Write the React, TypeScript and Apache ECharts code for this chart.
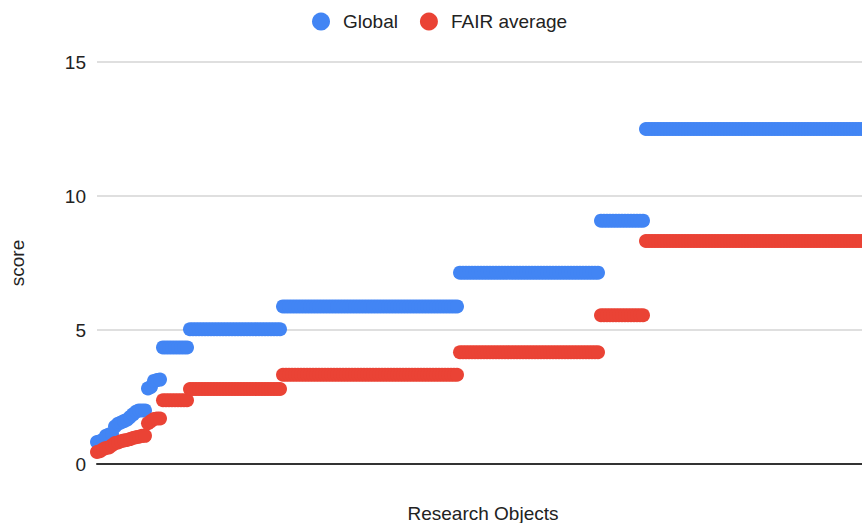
import React, { useEffect, useRef } from "react";
import * as echarts from "echarts";

// Scores, as [score, number of consecutive research objects]
const globalRuns: [number, number][] = [
  [0.82, 1], [0.85, 1], [0.9, 1], [1.05, 1], [1.1, 1], [1.12, 1],
  [1.4, 1], [1.5, 1], [1.55, 1], [1.6, 1], [1.65, 1], [1.75, 1],
  [1.85, 1], [1.95, 1], [2.0, 3], [2.82, 1], [2.88, 1], [3.1, 1],
  [3.13, 1], [3.15, 1], [4.35, 9], [5.03, 31], [5.88, 59], [7.14, 47],
  [9.08, 15], [12.5, 73],
];
const fairRuns: [number, number][] = [
  [0.45, 1], [0.48, 1], [0.55, 1], [0.6, 1], [0.62, 1], [0.7, 1],
  [0.78, 1], [0.8, 1], [0.85, 1], [0.88, 1], [0.9, 1], [0.93, 1],
  [0.97, 1], [1.0, 1], [1.02, 1], [1.05, 2], [1.52, 1], [1.6, 1],
  [1.68, 1], [1.7, 2], [2.38, 9], [2.8, 31], [3.33, 59], [4.17, 47],
  [5.55, 15], [8.32, 73],
];
const seriesNames = ["Global", "FAIR average"];
const yTicks = [0, 5, 10, 15];

const expand = (runs: [number, number][]) => {
  const out: number[] = [];
  runs.forEach(([v, n]) => {
    for (let k = 0; k < n; k++) out.push(v);
  });
  return out;
};

export default function App() {
  const ref = useRef<HTMLDivElement>(null);
  useEffect(() => {
    if (!ref.current) return;
    const chart = echarts.init(ref.current, undefined, { renderer: "svg" });
    const globalData = expand(globalRuns);
    const fairData = expand(fairRuns);
    const categories = globalData.map((_, i) => String(i + 1));
    const font = "Arial, 'Liberation Sans', sans-serif";
    chart.setOption({
      animation: false,
      backgroundColor: "#ffffff",
      textStyle: { fontFamily: font },
      legend: {
        top: 7,
        left: 307,
        itemWidth: 18,
        itemHeight: 18,
        itemGap: 22,
        icon: "circle",
        textStyle: { fontSize: 19, color: "#222", fontFamily: font, padding: [0, 0, 0, 8] },
        data: seriesNames,
      },
      grid: { left: 97, right: 0, top: 62, bottom: 59, containLabel: false, outerBoundsMode: "none" },
      xAxis: {
        type: "category",
        data: categories,
        boundaryGap: false,
        name: "Research Objects",
        nameLocation: "middle",
        nameGap: 40,
        nameMoveOverlap: false,
        nameTextStyle: { fontSize: 19, color: "#222", fontFamily: font, padding: [0, 0, 0, 7] },
        axisLine: { show: true, lineStyle: { color: "#333", width: 2 } },
        axisTick: { show: false },
        axisLabel: { show: false },
        splitLine: { show: false },
      },
      yAxis: {
        type: "value",
        min: yTicks[0],
        max: yTicks[yTicks.length - 1],
        interval: 5,
        name: "score",
        nameLocation: "middle",
        nameGap: 70,
        nameMoveOverlap: false,
        nameTextStyle: { fontSize: 19, color: "#222", fontFamily: font },
        axisLine: { show: false },
        axisTick: { show: false },
        axisLabel: { fontSize: 19, color: "#222", margin: 11, fontFamily: font },
        splitLine: { lineStyle: { color: "#d4d4d4", width: 1.5 } },
      },
      series: [
        {
          name: seriesNames[0],
          type: "scatter",
          data: globalData,
          symbolSize: 14,
          clip: true,
          itemStyle: { color: "#4285F4", opacity: 1 },
        },
        {
          name: seriesNames[1],
          type: "scatter",
          data: fairData,
          symbolSize: 14,
          clip: true,
          itemStyle: { color: "#EA4335", opacity: 1 },
        },
      ],
    });
    return () => chart.dispose();
  }, []);
  return (
    <div
      ref={ref}
      style={{ position: "absolute", left: 0, top: 0, width: 862, height: 523 }}
    />
  );
}
